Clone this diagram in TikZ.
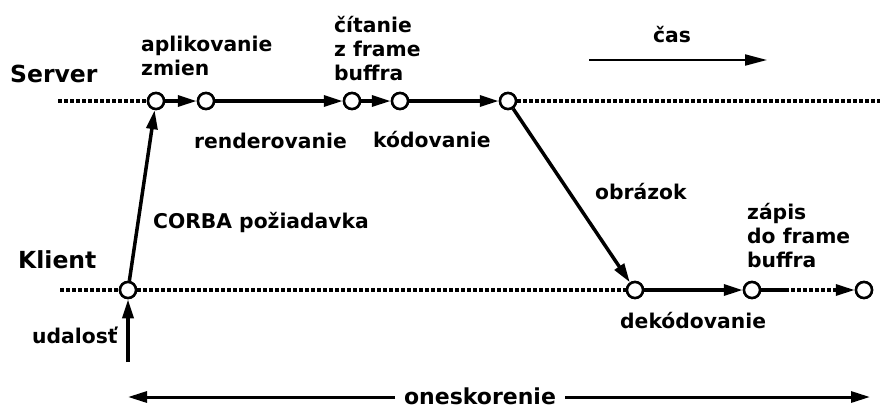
\documentclass[tikz,border=0pt]{standalone}
\usepackage{fontspec}
\setmainfont{DejaVu Sans}
\usetikzlibrary{arrows.meta}
\begin{document}
\begin{tikzpicture}[x=1pt,y=-1pt,
  ev/.style={circle,draw,line width=2.5pt,fill=white,minimum size=16pt,inner sep=0pt},
  flow/.style={line width=3.5pt,-{Triangle[length=19pt,width=11pt]}},
  dots/.style={line width=3.2pt,dash pattern=on 4pt off 2pt},
  lbl/.style={font=\fontsize{20.3}{24}\selectfont\bfseries,align=left,inner sep=0pt,anchor=base west},
  big/.style={font=\fontsize{23.5}{27}\selectfont\bfseries,inner sep=0pt,anchor=base west}]
\useasboundingbox (0,0) rectangle (880,408);

% events
\node[ev] (s1) at (156,101) {};
\node[ev] (s2) at (206,101) {};
\node[ev] (s3) at (352,101) {};
\node[ev] (s4) at (400,101) {};
\node[ev] (s5) at (508,101) {};
\node[ev] (k1) at (128,290) {};
\node[ev] (k2) at (635,290) {};
\node[ev] (k3) at (752,290) {};
\node[ev] (k4) at (864,290) {};

\coordinate (sl) at (58,101);
\coordinate (sr) at (880,101);
\coordinate (kl) at (60,290);
\coordinate (kmid) at (785,290);
\coordinate (ev0) at (128,362);

% timelines
\draw[dots] (sl) -- (s1);
\draw[dots] (s5) -- (sr);
\draw[dots] (kl) -- (k1);
\draw[dots] (k1) -- (k2);

% flows
\draw[flow] (ev0) -- (k1);
\draw[flow] (k1) -- (s1);
\draw[flow] (s1) -- (s2);
\draw[flow] (s2) -- (s3);
\draw[flow] (s3) -- (s4);
\draw[flow] (s4) -- (s5);
\draw[flow] (s5) -- (k2);
\draw[flow] (k2) -- (k3);
\draw[line width=3.5pt] (k3) -- (kmid);
\draw[dots,-{Triangle[length=19pt,width=11pt]}] (kmid) -- (k4);

% redraw circles on top
\foreach \n in {s1,s2,s3,s4,s5,k1,k2,k3,k4}
  \node[ev] at (\n) {};

% labels (base = baseline of last line)
\node[big] (server) at (10,82) {Server};
\node[big] (klient) at (18,268) {Klient};
\node[lbl] (apl) at (141,75) {aplikovanie\\zmien};
\node[lbl] (cit) at (334,80) {čítanie\\z frame\\buffra};
\node[lbl] (ren) at (194,148) {renderovanie};
\node[lbl] (kod) at (373,147) {kódovanie};
\node[lbl] (obr) at (595,199) {obrázok};
\node[lbl] (zap) at (747,267) {zápis\\do frame\\buffra};
\node[lbl] (dek) at (620,328) {dekódovanie};
\node[lbl] (corba) at (153,228) {CORBA požiadavka};
\node[lbl] (uda) at (32,343) {udalosť};

% time arrow
\node[lbl] (cas) at (653,42) {čas};
\coordinate (ca) at (589,60);
\coordinate (cb) at (767,60);
\draw[line width=2pt,-{Triangle[length=22pt,width=11pt]}] (ca) -- (cb);

% delay
\node[font=\fontsize{22}{26}\selectfont\bfseries,inner sep=0pt,anchor=base] (one) at (480,404) {oneskorenie};
\coordinate (dl) at (128,397);
\coordinate (dr) at (870,397);
\coordinate (dl2) at (395,397);
\coordinate (dr2) at (565,397);
\draw[line width=3pt,-{Triangle[length=19pt,width=11pt]}] (dl2) -- (dl);
\draw[line width=3pt,-{Triangle[length=19pt,width=11pt]}] (dr2) -- (dr);
\end{tikzpicture}
\end{document}
